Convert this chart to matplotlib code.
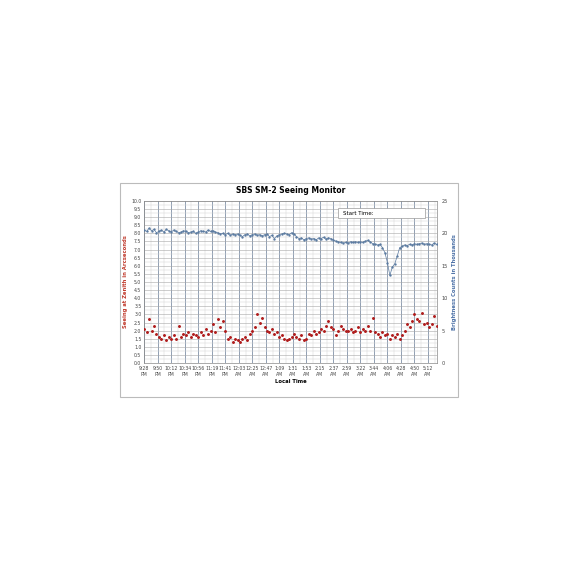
import numpy as np
import matplotlib.pyplot as plt
from matplotlib.patches import Rectangle

tick_labels = ['9:28\nPM', '9:50\nPM', '10:12\nPM', '10:34\nPM', '10:56\nPM', '11:19\nPM',
               '11:41\nPM', '12:03\nAM', '12:25\nAM', '12:47\nAM', '1:09\nAM', '1:31\nAM',
               '1:53\nAM', '2:15\nAM', '2:37\nAM', '2:59\nAM', '3:22\nAM', '3:44\nAM',
               '4:06\nAM', '4:28\nAM', '4:50\nAM', '5:12\nAM']

seeing = [2.1, 1.9, 2.7, 2.0, 2.3, 1.8,
          1.6, 1.5, 1.7, 1.4, 1.6, 1.5,
          1.7, 1.5, 2.3, 1.6, 1.8,
          1.7, 1.9, 1.6, 1.8, 1.7, 1.6,
          1.9, 1.7, 2.1, 1.8, 2.0,
          2.4, 1.9, 2.7, 2.2, 2.6, 2.0,
          1.5, 1.6, 1.3, 1.5, 1.4,
          1.3, 1.5, 1.6, 1.4, 1.8, 2.0,
          2.2, 3.0, 2.5, 2.8, 2.2,
          2.0, 1.9, 2.1, 1.8, 1.9, 1.6,
          1.7, 1.5, 1.4, 1.5, 1.6,
          1.8, 1.6, 1.5, 1.7, 1.4, 1.5,
          1.8, 1.7, 2.0, 1.8, 1.9,
          2.1, 2.0, 2.3, 2.6, 2.2, 2.1,
          1.7, 2.0, 2.3, 2.1, 2.0,
          2.0, 2.1, 1.9, 2.0, 2.2, 1.9,
          2.1, 2.0, 2.3, 2.0, 2.8,
          1.9, 1.8, 1.6, 1.9, 1.7, 1.8,
          1.5, 1.7, 1.6, 1.8, 1.5,
          1.7, 2.0, 2.4, 2.2, 2.6, 3.0,
          2.7, 2.6, 3.1, 2.4, 2.5,
          2.2, 2.4, 2.9, 2.3, 2.5, 2.4]

brightness = [20.5, 20.3, 20.8, 20.4, 20.6, 20.1,
              20.3, 20.5, 20.2, 20.6, 20.4, 20.2,
              20.5, 20.3, 20.1, 20.2, 20.4,
              20.3, 20.1, 20.2, 20.3, 20.0, 20.2,
              20.4, 20.3, 20.2, 20.5, 20.3,
              20.4, 20.2, 20.1, 19.9, 20.0, 19.8,
              20.0, 19.7, 19.9, 19.8, 19.9,
              19.7, 19.5, 19.8, 19.9, 19.6, 19.8,
              19.9, 19.7, 19.8, 19.6, 19.8,
              19.9, 19.5, 19.7, 19.2, 19.6, 19.8,
              19.9, 20.0, 19.9, 19.8, 20.1,
              19.9, 19.5, 19.2, 19.3, 19.0, 19.2,
              19.3, 19.1, 19.2, 19.0, 19.3,
              19.2, 19.4, 19.1, 19.3, 19.2, 19.0,
              18.8, 18.7, 18.6, 18.5, 18.6,
              18.5, 18.7, 18.6, 18.7, 18.6, 18.7,
              18.6, 18.8, 18.9, 18.7, 18.4,
              18.3, 18.2, 18.3, 17.8, 17.0, 15.5,
              13.5, 14.8, 15.3, 16.5, 17.8,
              18.0, 18.2, 18.1, 18.3, 18.2, 18.4,
              18.3, 18.4, 18.5, 18.3, 18.4,
              18.3, 18.2, 18.5, 18.3, 18.0, 18.6]

minutes = np.arange(len(seeing)) * 4
tick_pos = np.arange(len(tick_labels)) * 22

fig = plt.figure(figsize=(5.79, 5.79), dpi=100)
fig.patches.append(Rectangle((0.207, 0.314), 0.584, 0.370, transform=fig.transFigure,
                             fill=False, edgecolor='#bbbbbb', linewidth=0.8))

ax = fig.add_axes([0.249, 0.373, 0.506, 0.280])
ax.set_xlim(0, 477)
ax.set_ylim(0, 10)
ax.set_xticks(tick_pos)
ax.set_xticklabels(tick_labels)
ax.set_xticks(np.arange(11, 477, 22), minor=True)
ax.set_yticks(np.arange(0, 10.01, 0.5))
ax.set_yticklabels([f'{v:.1f}' for v in np.arange(0, 10.01, 0.5)])
ax.set_yticks(np.arange(0.25, 10, 0.5), minor=True)
ax.grid(which='major', axis='x', color='#7f8fa6', linewidth=0.6)
ax.grid(which='major', axis='y', color='#a8a8a8', linewidth=0.4)
ax.grid(which='minor', color='#d4d4d4', linewidth=0.35)
ax.set_axisbelow(True)
ax.tick_params(labelsize=3.3, length=0, pad=2, colors='#444444')
ax.tick_params(which='minor', length=0)
for s in ax.spines.values():
    s.set_color('#888888')
    s.set_linewidth(0.5)
ax.scatter(minutes, seeing, s=1.2, color='#b01c1c', zorder=3)
ax.set_ylabel('Seeing at Zenith in Arcseconds', fontsize=3.8, color='#c0392b', fontweight='bold', labelpad=2)
ax.set_xlabel('Local Time', fontsize=3.8, fontweight='bold', labelpad=2)
ax.set_title('SBS SM-2 Seeing Monitor', fontsize=5.5, fontweight='bold', pad=6)

ax2 = ax.twinx()
ax2.set_ylim(0, 25)
ax2.set_yticks(range(0, 26, 5))
ax2.tick_params(labelsize=3.6, length=0, pad=3, colors='#444444')
for s in ax2.spines.values():
    s.set_visible(False)
ax2.plot(minutes, brightness, color='#5a7aa0', linewidth=0.5, marker='o', markersize=0.7, zorder=3)
ax2.set_ylabel('Brightness Counts in Thousands', fontsize=3.8, color='#4a6fa5', fontweight='bold', labelpad=3)

fig.patches.append(Rectangle((0.584, 0.623), 0.150, 0.018, transform=fig.transFigure,
                             facecolor='white', edgecolor='#999999', linewidth=0.5, zorder=5))
fig.text(0.592, 0.632, 'Start Time:', fontsize=4, va='center', zorder=6)

fig.savefig('out.png', dpi=100)
